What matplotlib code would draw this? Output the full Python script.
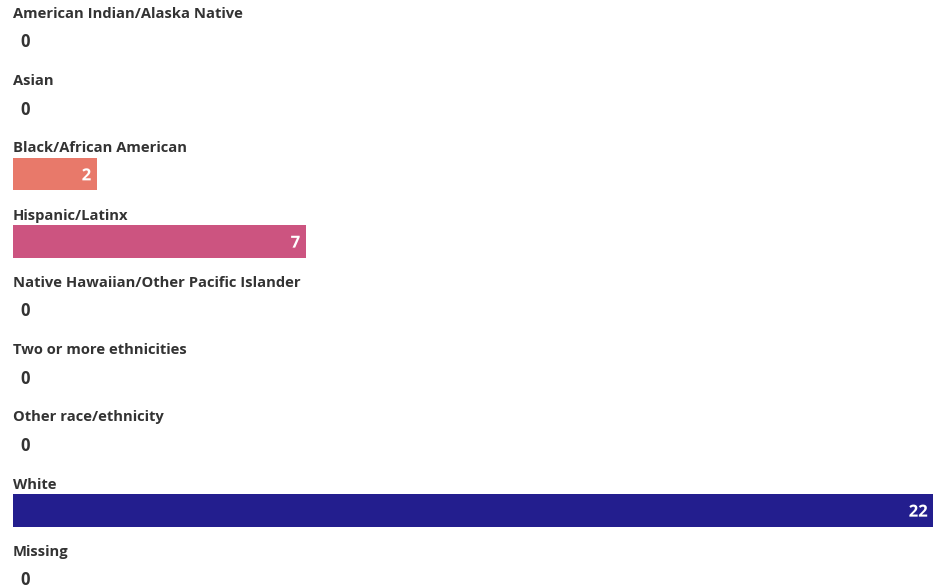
import matplotlib
matplotlib.use("Agg")
import matplotlib.pyplot as plt
import matplotlib.patheffects as pe

categories = [
    "American Indian/Alaska Native",
    "Asian",
    "Black/African American",
    "Hispanic/Latinx",
    "Native Hawaiian/Other Pacific Islander",
    "Two or more ethnicities",
    "Other race/ethnicity",
    "White",
    "Missing",
]
values = [0, 0, 2, 7, 0, 0, 0, 22, 0]
colors = ["#E8796A", "#E8796A", "#E8796A", "#CC5480", "#CC5480",
          "#8E3A8E", "#5A2A8E", "#231E8E", "#231E8E"]

plt.rcParams["font.family"] = ["Open Sans", "DejaVu Sans"]

fig = plt.figure(figsize=(9.34, 5.88), dpi=100)
ax = fig.add_axes([13 / 934, 0, 920 / 934, 1])
ax.set_xlim(0, 22)
ax.set_ylim(8.156, -0.587)
ax.axis("off")

txt = "#333333"
for i, (cat, v, c) in enumerate(zip(categories, values, colors)):
    ax.text(0, i - 0.38, cat, ha="left", va="center", fontsize=10.6,
            fontweight="bold", color=txt)
    if v > 0:
        ax.barh(i, v, height=0.49, left=0, color=c, edgecolor="none")
        ax.annotate(str(v), xy=(v, i), xytext=(-4, -1), textcoords="offset points",
                    ha="right", va="center", fontsize=12, fontweight="bold",
                    color="white",
                    path_effects=[pe.withStroke(linewidth=2.5, foreground=c)])
    else:
        ax.annotate("0", xy=(0, i), xytext=(5, -2), textcoords="offset points",
                    ha="left", va="center", fontsize=12, fontweight="bold",
                    color=txt)

fig.savefig("out.png", dpi=100)
